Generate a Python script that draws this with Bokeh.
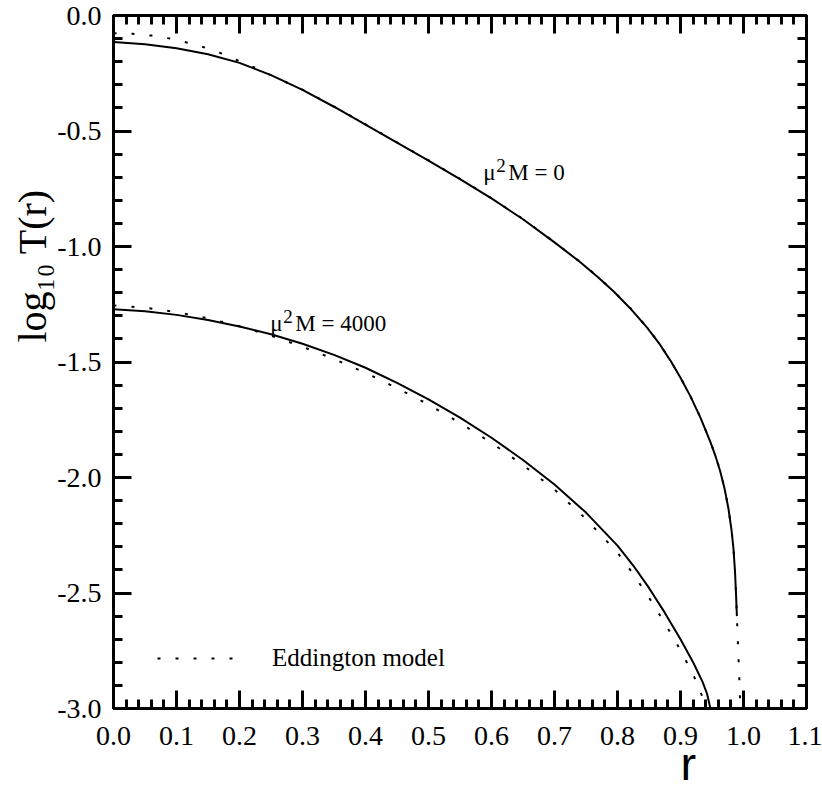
from bokeh.embed import file_html
from bokeh.models import (FixedTicker, Label, Legend, LegendItem, LinearAxis,
                          PrintfTickFormatter, Range1d, Title)
from bokeh.plotting import figure
from bokeh.resources import INLINE

# ---- data: log10 T(r) against r ----
r_free = [0.0, 0.05, 0.1, 0.15, 0.2, 0.25, 0.3, 0.35, 0.4, 0.45, 0.5, 0.55,
          0.6, 0.65, 0.7, 0.741, 0.77, 0.794, 0.82, 0.847, 0.866, 0.884,
          0.9, 0.916, 0.932, 0.948, 0.956, 0.963, 0.97, 0.976, 0.981, 0.984,
          0.9865, 0.988, 0.9895]
logT_free = [-0.115, -0.124, -0.142, -0.168, -0.205, -0.258, -0.322, -0.395,
             -0.472, -0.550, -0.628, -0.708, -0.792, -0.882, -0.982, -1.068,
             -1.135, -1.195, -1.267, -1.351, -1.419, -1.494, -1.568, -1.650,
             -1.743, -1.850, -1.911, -1.973, -2.049, -2.133, -2.228, -2.306,
             -2.406, -2.496, -2.600]

r_free_edd = [0.0, 0.03, 0.06, 0.09, 0.12, 0.15, 0.175, 0.2, 0.23, 0.26, 0.3,
              0.35, 0.4, 0.45, 0.5, 0.55, 0.6, 0.65, 0.7, 0.741, 0.77, 0.794,
              0.82, 0.847, 0.866, 0.884, 0.9, 0.916, 0.932, 0.948, 0.956,
              0.963, 0.97, 0.976, 0.981, 0.984, 0.9865, 0.988, 0.9895, 0.991,
              0.9925, 0.9938, 0.995]
logT_free_edd = [-0.077, -0.079, -0.087, -0.100, -0.119, -0.143, -0.168,
                 -0.198, -0.232, -0.272, -0.321, -0.394, -0.471, -0.549,
                 -0.627, -0.707, -0.791, -0.881, -0.981, -1.067, -1.134,
                 -1.194, -1.266, -1.350, -1.418, -1.493, -1.567, -1.649,
                 -1.742, -1.849, -1.910, -1.972, -2.048, -2.132, -2.227,
                 -2.305, -2.405, -2.495, -2.600, -2.710, -2.810, -2.900,
                 -3.000]

r_heavy = [0.0, 0.05, 0.1, 0.15, 0.2, 0.25, 0.3, 0.35, 0.4, 0.45, 0.5, 0.55,
           0.6, 0.65, 0.7, 0.75, 0.8, 0.825, 0.85, 0.875, 0.9, 0.92, 0.935,
           0.942, 0.9475]
logT_heavy = [-1.272, -1.280, -1.296, -1.318, -1.346, -1.380, -1.421, -1.469,
              -1.525, -1.590, -1.662, -1.741, -1.828, -1.924, -2.030, -2.152,
              -2.295, -2.381, -2.478, -2.585, -2.700, -2.800, -2.885, -2.935,
              -3.000]

r_heavy_edd = [0.0, 0.05, 0.1, 0.15, 0.2, 0.25, 0.3, 0.35, 0.4, 0.45, 0.5,
               0.55, 0.6, 0.65, 0.7, 0.75, 0.8, 0.825, 0.85, 0.875, 0.9,
               0.92, 0.93, 0.935, 0.9405]
logT_heavy_edd = [-1.255, -1.265, -1.284, -1.311, -1.345, -1.386, -1.434,
                  -1.487, -1.547, -1.613, -1.684, -1.764, -1.850, -1.946,
                  -2.052, -2.180, -2.325, -2.418, -2.520, -2.630, -2.748,
                  -2.852, -2.915, -2.952, -3.000]

x_ticks = [0.0, 0.1, 0.2, 0.3, 0.4, 0.5, 0.6, 0.7, 0.8, 0.9, 1.0, 1.1]
y_ticks = [-3.0, -2.5, -2.0, -1.5, -1.0, -0.5, 0.0]

SERIF = "Liberation Serif"
SANS = "Liberation Sans"

p = figure(width=822, height=790, output_backend="svg", toolbar_location=None,
           x_range=Range1d(0, 1.1), y_range=Range1d(-3, 0),
           min_border_left=113, min_border_right=16, min_border_top=15,
           min_border_bottom=82)
p.grid.visible = False
p.outline_line_color = "black"
p.outline_line_width = 3
p.background_fill_color = "white"
p.border_fill_color = "white"

x_minor = [round(i * 0.02, 2) for i in range(56)]
y_minor = [round(-3 + i * 0.1, 1) for i in range(31)]


def style_axis(ax, ticks, minor, show_labels):
    ax.ticker = FixedTicker(ticks=ticks, minor_ticks=minor)
    ax.formatter = PrintfTickFormatter(format="%.1f")
    ax.axis_line_width = 3
    ax.axis_line_color = "black"
    ax.major_tick_in = 18
    ax.major_tick_out = 0
    ax.minor_tick_in = 9
    ax.minor_tick_out = 0
    ax.major_tick_line_width = 3
    ax.minor_tick_line_width = 3
    ax.major_tick_line_color = "black"
    ax.minor_tick_line_color = "black"
    ax.major_label_text_font = SERIF
    ax.major_label_text_color = "black"
    if show_labels:
        ax.major_label_text_font_size = "28px"
    else:
        ax.major_label_text_font_size = "0px"
        ax.major_label_standoff = 0


style_axis(p.xaxis[0], x_ticks, x_minor, True)
p.xaxis[0].major_label_standoff = 18
style_axis(p.yaxis[0], y_ticks, y_minor, True)
p.yaxis[0].major_label_standoff = 12

top_axis = LinearAxis()
right_axis = LinearAxis()
style_axis(top_axis, x_ticks, x_minor, False)
style_axis(right_axis, y_ticks, y_minor, False)
p.add_layout(top_axis, "above")
p.add_layout(right_axis, "right")

# axis titles, placed as side titles so they sit outside the frame
y_title = Title(text="log\u2081\u2080 T(r)", align="left", offset=366,
                standoff=0, vertical_align="bottom", text_font=SERIF,
                text_font_size="40px", text_font_style="normal",
                text_color="black")
p.add_layout(y_title, "left")
x_title = Title(text="r", align="left", offset=567, standoff=-22,
                vertical_align="top", text_font=SANS,
                text_font_size="47px", text_font_style="normal",
                text_color="black")
p.add_layout(x_title, "below")

# curves
p.line(r_free, logT_free, line_color="black", line_width=2)
p.line(r_heavy, logT_heavy, line_color="black", line_width=2)
edd1 = p.line(r_free_edd, logT_free_edd, line_color="black", line_width=2,
              line_dash="3 15")
p.line(r_heavy_edd, logT_heavy_edd, line_color="black", line_width=2,
       line_dash="3 15")

legend = Legend(items=[LegendItem(label="Eddington model", renderers=[edd1])],
                location=(44, 36), padding=0, margin=0, spacing=0,
                glyph_width=76, glyph_height=24, label_standoff=39,
                label_text_font=SERIF, label_text_font_size="25px",
                label_text_color="black", border_line_alpha=0,
                background_fill_alpha=0)
p.add_layout(legend)


def curve_label(x, y, tail):
    p.add_layout(Label(x=x, y=y, text="\u03bc", text_font=SERIF,
                       text_font_size="23px", text_baseline="alphabetic",
                       text_color="black"))
    p.add_layout(Label(x=x, y=y, x_offset=13, y_offset=7, text="2",
                       text_font=SERIF, text_font_size="19px",
                       text_baseline="alphabetic", text_color="black"))
    p.add_layout(Label(x=x, y=y, x_offset=25, text=tail, text_font=SERIF,
                       text_font_size="23px", text_baseline="alphabetic",
                       text_color="black"))


curve_label(0.587, -0.680, "M = 0")
curve_label(0.249, -1.333, "M = 4000")

open("out.html", "w").write(file_html(p, INLINE))
